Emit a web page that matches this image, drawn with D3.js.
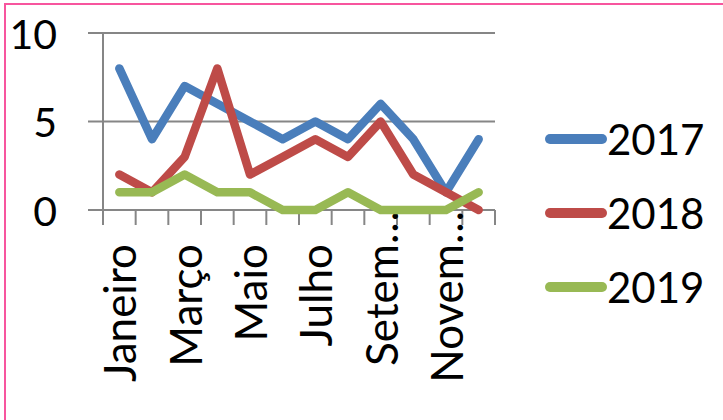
<!DOCTYPE html>
<html><head><meta charset="utf-8">
<script src="https://cdn.jsdelivr.net/npm/d3@7"></script>
<style>html,body{margin:0;padding:0;background:#fff;overflow:hidden}</style>
</head><body>
<svg id="c" width="723" height="420"></svg>
<script>
const months = ["Janeiro","Fevereiro","Março","Abril","Maio","Junho","Julho","Agosto","Setembro","Outubro","Novembro","Dezembro"];
const shownLabels = ["Janeiro","","Março","","Maio","","Julho","","Setem…","","Novem…",""];
const s2017 = [8,4,7,6,5,4,5,4,6,4,1,4];
const s2018 = [2,1,3,8,2,3,4,3,5,2,1,0];
const s2019 = [1,1,2,1,1,0,0,1,0,0,0,1];
const seriesNames = ["2017","2018","2019"];
const colors = ["#4a7ebb","#be4b48","#98b954"];
const yTicks = [0,5,10];

const series = [s2017, s2018, s2019];
const svg = d3.select("#c");
const font = "Lato, 'Open Sans', sans-serif";

// outer border (top + left visible)
svg.append("rect").attr("x",5).attr("y",4).attr("width",800).attr("height",500)
  .attr("fill","none").attr("stroke","#f7559e").attr("stroke-width",2);

const x = d3.scaleBand().domain(months).range([103,495]);
const y = d3.scaleLinear().domain([0,10]).range([210,33]);

// gridlines
svg.append("g").selectAll("line").data(yTicks).join("line")
  .attr("x1",88).attr("x2",495).attr("y1",d=>y(d)).attr("y2",d=>y(d))
  .attr("stroke","#868686").attr("stroke-width",2);
// y axis line
svg.append("line").attr("x1",103).attr("x2",103).attr("y1",33).attr("y2",225)
  .attr("stroke","#868686").attr("stroke-width",2);
// x ticks
const tickPos = months.map(m=>x(m)).concat([x.range()[1]]);
svg.append("g").selectAll("line").data(tickPos).join("line")
  .attr("x1",d=>d).attr("x2",d=>d).attr("y1",210).attr("y2",225)
  .attr("stroke","#868686").attr("stroke-width",2);

// y labels
svg.append("g").selectAll("text").data(yTicks).join("text")
  .attr("x",57).attr("y",d=>y(d)).attr("text-anchor","end")
  .attr("dominant-baseline","central")
  .style("font-family",font).style("font-size","41px").attr("fill","#000")
  .text(d=>d);

// x labels
svg.append("g").selectAll("text").data(months.map((m,i)=>({m,l:shownLabels[i]})).filter(d=>d.l))
  .join("text")
  .attr("transform",d=>`translate(${x(d.m)+x.bandwidth()/2},${d.l.endsWith("…")?211:244}) rotate(-90)`)
  .attr("text-anchor","end").attr("dominant-baseline","central")
  .style("font-family",font).style("font-size","44px").attr("fill","#000")
  .text(d=>d.l);

// lines
const line = d3.line().x((d,i)=>x(months[i])+x.bandwidth()/2).y(d=>y(d));
svg.append("g").selectAll("path").data(series).join("path")
  .attr("d",line).attr("fill","none")
  .attr("stroke",(d,i)=>colors[i]).attr("stroke-width",8.5)
  .attr("stroke-linejoin","round").attr("stroke-linecap","round");

// legend
const lg = svg.append("g").selectAll("g").data(seriesNames).join("g")
  .attr("transform",(d,i)=>`translate(0,${139+i*74})`);
lg.append("line").attr("x1",550).attr("x2",602).attr("y1",0).attr("y2",0)
  .attr("stroke",(d,i)=>colors[i]).attr("stroke-width",10).attr("stroke-linecap","round");
lg.append("text").attr("x",607).attr("y",0).attr("dominant-baseline","central")
  .style("font-family",font).style("font-size","42px").attr("fill","#000")
  .text(d=>d);
</script>
</body></html>
